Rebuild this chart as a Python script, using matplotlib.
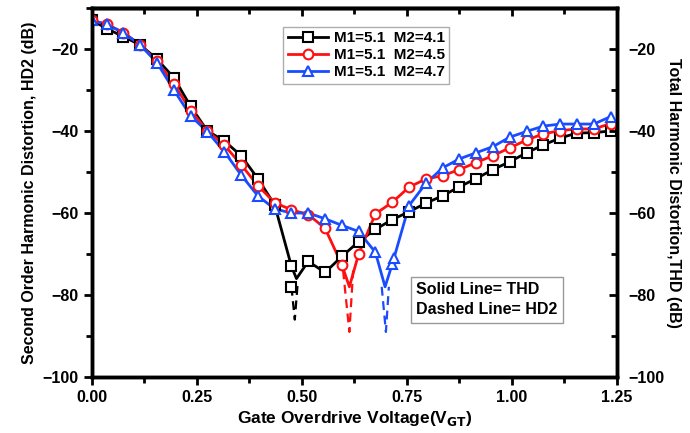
import numpy as np
import matplotlib.pyplot as plt
from matplotlib.lines import Line2D
from matplotlib.ticker import MultipleLocator, FormatStrFormatter

plt.rcParams['font.family'] = ['Liberation Sans', 'DejaVu Sans']
plt.rcParams['font.weight'] = 'bold'

# gate overdrive points (markers)
vgt = [0.0, 0.035, 0.075, 0.115, 0.155, 0.195, 0.235, 0.275, 0.315, 0.355,
       0.395, 0.435, 0.475, 0.515, 0.555, 0.595, 0.635, 0.675, 0.715, 0.755,
       0.795, 0.835, 0.875, 0.915, 0.955, 0.995, 1.035, 1.075, 1.115, 1.155,
       1.195, 1.235]

# THD (dB), solid lines
thd_41 = [-13, -15, -17, -19, -22.5, -27, -34, -40, -42.4, -46, -51.6, -58,
          -73, -71.8, -74.5, -70.6, -67, -64, -61.6, -59.7, -57.6, -55.8,
          -53.6, -51.6, -49.4, -47.5, -45.3, -43.4, -41.7, -40.5, -40.4, -40]
thd_45 = [-13, -14, -16, -19, -23, -28.5, -35, -40, -43.4, -48.2, -53.3,
          -57.5, -59.2, -60.4, -63.7, -72.6, -70, -60.2, -57.4, -53.7, -51.7,
          -50.9, -49.4, -47.7, -46, -44.1, -42.2, -40.7, -39.9, -39.5, -39.5,
          -38.2]
thd_47 = [-13, -14, -16, -19, -23.4, -30, -36.3, -40.2, -45, -50.7, -55.8,
          -59, -60, -60, -61.4, -63, -64.5, -69.6, -72.5, -58.2, -52.8, -49,
          -46.8, -45.3, -43.8, -41.5, -40.1, -38.8, -38.3, -38.3, -38.3, -36.5]

# THD dip minima (extra line points, no marker): (insert index, x, y)
dip_41 = (13, 0.487, -76)
dip_45 = (16, 0.613, -78)
dip_47 = (18, 0.698, -78)

# HD2 dashed notches
hd2_41_x = [0.475, 0.483, 0.490]
hd2_41_y = [-78, -86, -77]
hd2_45_x = [0.598, 0.613, 0.622]
hd2_45_y = [-74, -89, -74]
hd2_47_x = [0.690, 0.700, 0.707]
hd2_47_y = [-78, -89, -78]

# HD2 markers near the notch
hd2_mark_41 = (0.475, -78)
hd2_mark_47 = (0.720, -71)

labels = ['M1=5.1  M2=4.1', 'M1=5.1  M2=4.5', 'M1=5.1  M2=4.7']
colors = ['black', '#ff1010', '#1a4cff']
markers = ['s', 'o', '^']

fig = plt.figure(figsize=(6.9, 4.33), dpi=100)
ax = fig.add_axes([0.1333, 0.1293, 0.7607, 0.8522])

series = [(thd_41, dip_41, hd2_41_x, hd2_41_y, hd2_mark_41),
          (thd_45, dip_45, hd2_45_x, hd2_45_y, None),
          (thd_47, dip_47, hd2_47_x, hd2_47_y, hd2_mark_47)]

handles = []
for (thd, dip, hx, hy, hm), c, m, lab in zip(series, colors, markers, labels):
    lx = list(vgt)
    ly = list(thd)
    lx.insert(dip[0], dip[1])
    ly.insert(dip[0], dip[2])
    ax.plot(lx, ly, color=c, lw=2, zorder=2)
    ax.plot(hx, hy, color=c, lw=1.6, ls=(0, (4, 2.5)), zorder=2)
    ax.plot(vgt, thd, ls='none', marker=m, ms=7, mfc='white', mec=c,
            mew=1.5, zorder=3)
    if hm is not None:
        ax.plot([hm[0]], [hm[1]], ls='none', marker=m, ms=7, mfc='white',
                mec=c, mew=1.5, zorder=3)
    handles.append(Line2D([], [], color=c, lw=2, marker=m, ms=7,
                          mfc='white', mec=c, mew=1.5))

ax.set_xlim(0, 1.25)
ax.set_ylim(-100, -10)
ax.set_xticks([0, 0.25, 0.5, 0.75, 1.0, 1.25])
ax.xaxis.set_minor_locator(MultipleLocator(0.125))
ax.xaxis.set_major_formatter(FormatStrFormatter('%.2f'))
ax.set_yticks([-100, -80, -60, -40, -20])
ax.yaxis.set_minor_locator(MultipleLocator(10))
for s in ax.spines.values():
    s.set_linewidth(2.5)
ax.tick_params(which='major', direction='out', length=6, width=2,
               labelsize=11.5)
ax.tick_params(which='minor', direction='out', length=4, width=2)

# top axis: inward ticks, no labels
top = ax.secondary_xaxis('top')
top.set_xticks([0, 0.25, 0.5, 0.75, 1.0, 1.25])
top.xaxis.set_minor_locator(MultipleLocator(0.125))
top.tick_params(which='major', direction='in', length=6, width=2,
                labeltop=False)
top.tick_params(which='minor', direction='in', length=4, width=2)
top.spines['top'].set_linewidth(2.5)

ax.set_xlabel('Gate Overdrive Voltage(V$_{\\mathbf{GT}}$)', fontsize=12.5,
              fontweight='bold', labelpad=3)
ax.set_ylabel('Second Order Harmonic Distortion, HD2 (dB)', fontsize=11.5,
              fontweight='bold', labelpad=4)

ax2 = ax.twinx()
ax2.set_ylim(-100, -10)
ax2.set_yticks([-100, -80, -60, -40, -20])
ax2.yaxis.set_minor_locator(MultipleLocator(10))
ax2.tick_params(which='major', direction='in', length=6, width=2,
                labelsize=11.5, pad=8)
ax2.tick_params(which='minor', direction='in', length=4, width=2)
ax2.set_ylabel('Total Harmonic Distortion,THD (dB)', fontsize=11.5,
               fontweight='bold', rotation=270, labelpad=12)
for s in ax2.spines.values():
    s.set_linewidth(2.5)

leg = ax.legend(handles, labels, loc='upper left',
                bbox_to_anchor=(0.35, 0.97), handlelength=2.6,
                frameon=True, fancybox=False, borderpad=0.3,
                labelspacing=0.2, handletextpad=0.4,
                prop={'weight': 'bold', 'size': 11})
leg.get_frame().set_edgecolor('#999999')
leg.get_frame().set_linewidth(1)

ax.text(0.618, 0.21, 'Solid Line= THD\nDashed Line= HD2',
        transform=ax.transAxes, fontsize=11.5, fontweight='bold',
        linespacing=1.4, va='center', ha='left',
        bbox=dict(boxstyle='square,pad=0.35', fc='white', ec='#999999', lw=1))

fig.savefig('out.png', dpi=100)
